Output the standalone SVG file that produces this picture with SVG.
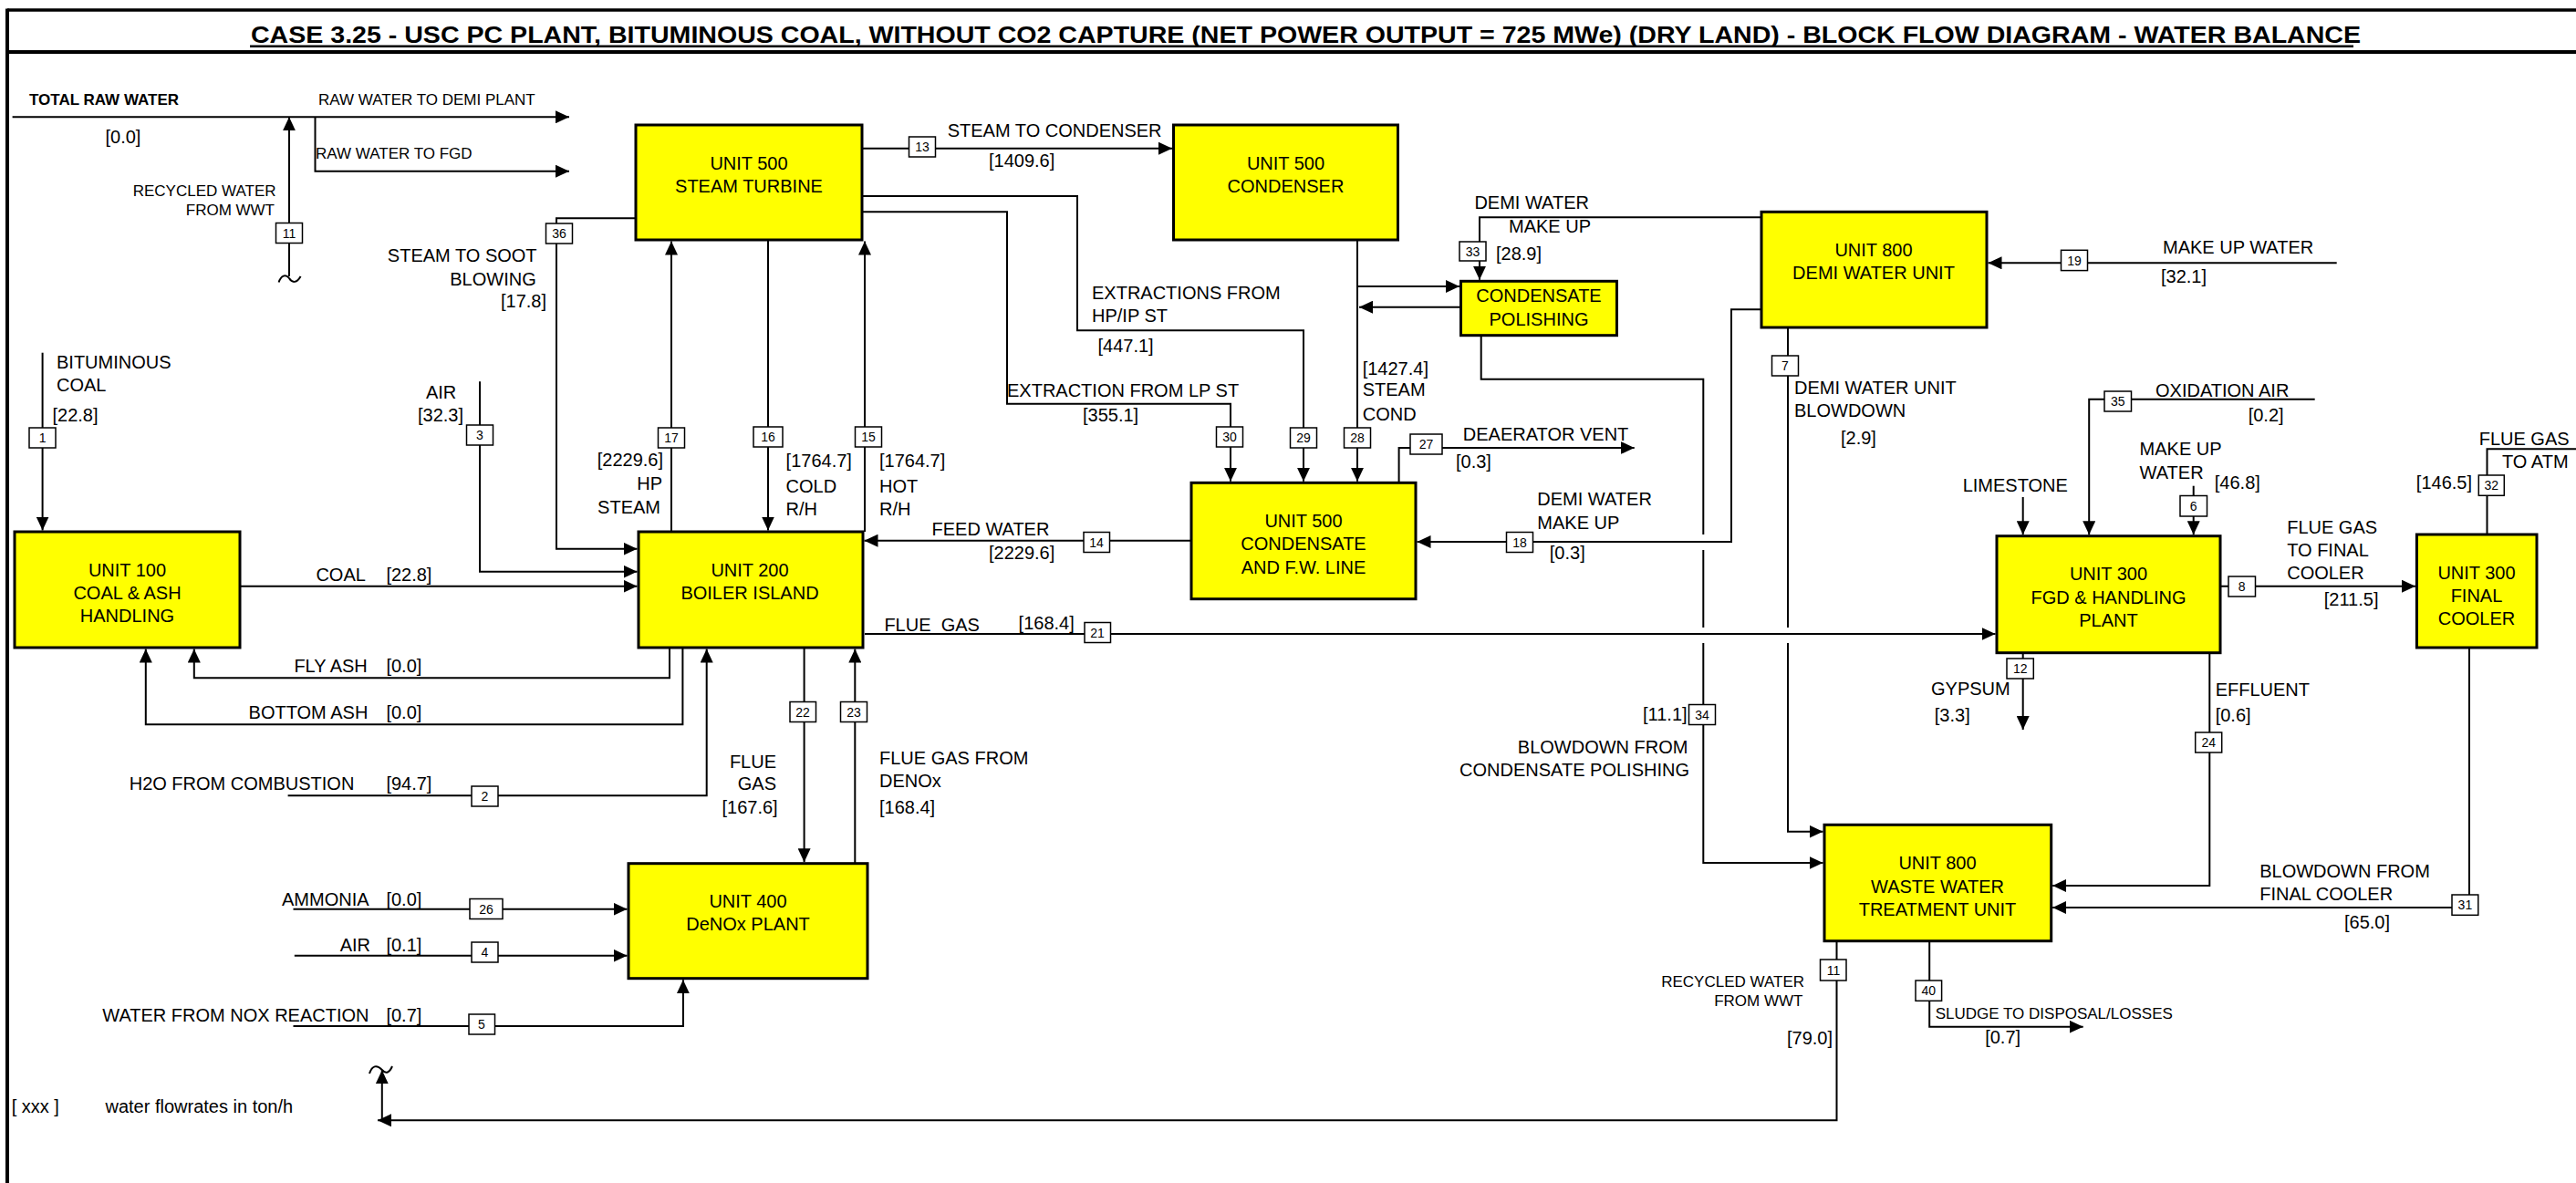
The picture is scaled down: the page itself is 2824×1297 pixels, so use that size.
<svg xmlns="http://www.w3.org/2000/svg" width="2824" height="1297" viewBox="0 0 2824 1297">
<defs>
<marker id="ah" markerWidth="15" markerHeight="14" refX="15" refY="7" orient="auto" markerUnits="userSpaceOnUse"><path d="M0,0 L15,7 L0,14 z" fill="#000"/></marker>
<style>
text{font-family:"Liberation Sans",Arial,sans-serif;fill:#000}
.n{fill:#FFFF00;stroke:#000;stroke-width:3}
.nt{font-size:20px;text-anchor:middle}
.l{font-size:20px}
.s{font-size:17px}
.e{text-anchor:end}
.c{fill:none;stroke:#000;stroke-width:2}
.a{marker-end:url(#ah)}
.b{fill:#fff;stroke:#000;stroke-width:1.5}
.bt{font-size:14px;text-anchor:middle}
.frame{stroke:#000;fill:none}
</style>
</defs>
<rect width="2824" height="1297" fill="#fff"/>
<g id="frame">
<line class="frame" x1="8" y1="11" x2="2824" y2="11" stroke-width="3.5"/>
<line class="frame" x1="8" y1="9.5" x2="8" y2="1297" stroke-width="4"/>
<line class="frame" x1="8" y1="57" x2="2824" y2="57" stroke-width="4"/>
<text x="275" y="46.7" font-size="25" font-weight="bold" textLength="2313" lengthAdjust="spacingAndGlyphs">CASE 3.25 - USC PC PLANT, BITUMINOUS COAL, WITHOUT CO2 CAPTURE (NET POWER OUTPUT = 725 MWe) (DRY LAND) - BLOCK FLOW DIAGRAM - WATER BALANCE</text>
<line class="frame" x1="274" y1="50.8" x2="2580" y2="50.8" stroke-width="2.5"/>
</g>
<g id="u100"><rect class="n" x="16" y="583" width="247" height="127"/><text class="nt" x="139.5" y="631.7">UNIT 100</text><text class="nt" x="139.5" y="657">COAL &amp; ASH</text><text class="nt" x="139.5" y="682">HANDLING</text></g>
<g id="u500st"><rect class="n" x="697" y="137" width="248" height="126"/><text class="nt" x="821" y="185.7">UNIT 500</text><text class="nt" x="821" y="210.7">STEAM TURBINE</text></g>
<g id="u500cond"><rect class="n" x="1286.5" y="137" width="246" height="126"/><text class="nt" x="1409.5" y="185.7">UNIT 500</text><text class="nt" x="1409.5" y="210.7">CONDENSER</text></g>
<g id="polishing"><rect class="n" x="1601.5" y="308.3" width="171" height="59.4"/><text class="nt" x="1687" y="331">CONDENSATE</text><text class="nt" x="1687" y="356.7">POLISHING</text></g>
<g id="u800demi"><rect class="n" x="1931" y="232.3" width="247" height="126.7"/><text class="nt" x="2054" y="281">UNIT 800</text><text class="nt" x="2054" y="306">DEMI WATER UNIT</text></g>
<g id="u200"><rect class="n" x="700" y="583" width="246" height="127"/><text class="nt" x="822" y="631.7">UNIT 200</text><text class="nt" x="822" y="656.7">BOILER ISLAND</text></g>
<g id="u500cfw"><rect class="n" x="1306" y="529.3" width="246" height="127.4"/><text class="nt" x="1429" y="577.7">UNIT 500</text><text class="nt" x="1429" y="603.3">CONDENSATE</text><text class="nt" x="1429" y="629">AND F.W. LINE</text></g>
<g id="u300fgd"><rect class="n" x="2189" y="587.7" width="245" height="128"/><text class="nt" x="2311.5" y="635.7">UNIT 300</text><text class="nt" x="2311.5" y="661.7">FGD &amp; HANDLING</text><text class="nt" x="2311.5" y="686.7">PLANT</text></g>
<g id="u300fc"><rect class="n" x="2649.4" y="586" width="131.6" height="124"/><text class="nt" x="2715" y="635">UNIT 300</text><text class="nt" x="2715" y="660">FINAL</text><text class="nt" x="2715" y="685">COOLER</text></g>
<g id="u400"><rect class="n" x="689" y="946.7" width="262" height="126"/><text class="nt" x="820" y="995">UNIT 400</text><text class="nt" x="820" y="1020">DeNOx PLANT</text></g>
<g id="u800wwt"><rect class="n" x="2000" y="904.3" width="248.7" height="127.4"/><text class="nt" x="2124" y="953.3">UNIT 800</text><text class="nt" x="2124" y="979">WASTE WATER</text><text class="nt" x="2124" y="1004">TREATMENT UNIT</text></g>
<g id="connectors">
<path class="c a" d="M13.6,128.3 H624"/>
<path class="c a" d="M345.5,128.3 V187.7 H624"/>
<path class="c a" d="M317,303 V128.3"/>
<path class="c" d="M305.6,309.5 C308,302 313,300 317,305 C320,310 325,311 329.6,303"/>
<path class="c a" d="M697,239.3 H610 V601.7 H698.5"/>
<path class="c a" d="M46.6,386.7 V581.5"/>
<path class="c a" d="M526,418.3 V626.7 H698.5"/>
<path class="c a" d="M263,642.7 H698.5"/>
<path class="c a" d="M734,711 V743.3 H212.8 V711.5"/>
<path class="c a" d="M748.4,711 V794.3 H159.8 V711.5"/>
<path class="c a" d="M315.6,872.3 H774.7 V711.5"/>
<path class="c a" d="M736,583 V264.5"/>
<path class="c a" d="M842,263 V581.5"/>
<path class="c a" d="M948,583 V264.5"/>
<path class="c a" d="M946,162.7 H1285"/>
<path class="c a" d="M946,215 H1181 V362.3 H1429 V527.8"/>
<path class="c a" d="M946,232.3 H1104 V442.7 H1349 V527.8"/>
<path class="c a" d="M1488,263 V527.8"/>
<path class="c a" d="M1488,314 H1600"/>
<path class="c a" d="M1601,336.7 H1490"/>
<path class="c a" d="M1931,238.3 H1622 V306.8"/>
<path class="c a" d="M1623.7,367.7 V415.7 H1867.3 V586 M1867.3,603 V688 M1867.3,705 V946 H1998.5"/>
<path class="c a" d="M1960,359 V688 M1960,705 V911.7 H1998.5"/>
<path class="c a" d="M1931,339.3 H1898 V594 H1553.5"/>
<path class="c a" d="M1533.6,529 V491 H1791.7"/>
<path class="c a" d="M1306,592.7 H947.5"/>
<path class="c a" d="M948,695 H2187.5"/>
<path class="c a" d="M881.6,710 V945.2"/>
<path class="c a" d="M937.3,947 V711.5"/>
<path class="c a" d="M321.5,996.7 H687.5"/>
<path class="c a" d="M322.8,1047.7 H687.5"/>
<path class="c a" d="M321.5,1125 H748.9 V1074.2"/>
<path class="c a" d="M2013.5,1031.7 V1228.3 H414"/>
<path class="c a" d="M418.8,1228.3 V1173.3"/>
<path class="c" d="M405,1177 C408,1168 413,1167 418.8,1173 C423,1178 427,1176 430,1169"/>
<path class="c a" d="M2561.7,288.3 H2179.5"/>
<path class="c a" d="M2537.7,437.7 H2290.2 V586.2"/>
<path class="c a" d="M2217.7,545 V586.2"/>
<path class="c a" d="M2404.7,532.7 V586.2"/>
<path class="c a" d="M2434,642.7 H2647.9"/>
<path class="c a" d="M2217.7,715.7 V800"/>
<path class="c a" d="M2422.3,715.7 V971 H2250.2"/>
<path class="c" d="M2726.5,586 V492.3 H2824"/>
<path class="c a" d="M2707,710 V995 H2250.2"/>
<path class="c a" d="M2115.2,1031.7 V1125.7 H2283.7"/>
</g>
<g id="streams">
<rect class="b" x="302.5" y="244.5" width="29" height="22"/><text class="bt" x="317" y="260.5">11</text>
<rect class="b" x="598.5" y="245" width="29" height="22"/><text class="bt" x="613" y="261">36</text>
<rect class="b" x="32" y="469" width="29" height="22"/><text class="bt" x="46.6" y="485">1</text>
<rect class="b" x="511.5" y="466" width="29" height="22"/><text class="bt" x="526" y="482">3</text>
<rect class="b" x="721.5" y="469" width="29" height="22"/><text class="bt" x="736" y="485">17</text>
<rect class="b" x="826" y="468" width="32" height="22"/><text class="bt" x="842" y="484">16</text>
<rect class="b" x="937.5" y="468" width="29" height="22"/><text class="bt" x="952" y="484">15</text>
<rect class="b" x="996.5" y="150" width="29" height="22"/><text class="bt" x="1011" y="166">13</text>
<rect class="b" x="1333.5" y="468" width="29" height="22"/><text class="bt" x="1348" y="484">30</text>
<rect class="b" x="1414.5" y="469" width="29" height="22"/><text class="bt" x="1429" y="485">29</text>
<rect class="b" x="1473.5" y="469" width="29" height="22"/><text class="bt" x="1488" y="485">28</text>
<rect class="b" x="1546" y="476" width="35" height="22"/><text class="bt" x="1563.5" y="492">27</text>
<rect class="b" x="1600" y="265" width="29" height="21"/><text class="bt" x="1614.5" y="280.5">33</text>
<rect class="b" x="1851.5" y="772.5" width="29" height="22"/><text class="bt" x="1866" y="788.5">34</text>
<rect class="b" x="1942.5" y="390" width="29" height="22"/><text class="bt" x="1957" y="406">7</text>
<rect class="b" x="1651.5" y="583.5" width="29" height="22"/><text class="bt" x="1666" y="599.5">18</text>
<rect class="b" x="1188" y="583.5" width="28.5" height="22"/><text class="bt" x="1202" y="599.5">14</text>
<rect class="b" x="1189" y="682.5" width="28.5" height="22"/><text class="bt" x="1203" y="698.5">21</text>
<rect class="b" x="866" y="769.5" width="28.5" height="22"/><text class="bt" x="880" y="785.5">22</text>
<rect class="b" x="921.5" y="769.5" width="29" height="22"/><text class="bt" x="936" y="785.5">23</text>
<rect class="b" x="517" y="862" width="29" height="22"/><text class="bt" x="531.5" y="878">2</text>
<rect class="b" x="515" y="985.5" width="36" height="22"/><text class="bt" x="533" y="1001.5">26</text>
<rect class="b" x="517" y="1033" width="29" height="22"/><text class="bt" x="531.5" y="1049">4</text>
<rect class="b" x="514" y="1112" width="28.5" height="22"/><text class="bt" x="528" y="1128">5</text>
<rect class="b" x="1995.5" y="1052" width="28.5" height="23"/><text class="bt" x="2010" y="1068.5">11</text>
<rect class="b" x="2259.5" y="274.3" width="29" height="22.3"/><text class="bt" x="2274" y="290.5">19</text>
<rect class="b" x="2307" y="429" width="29.5" height="22"/><text class="bt" x="2321.7" y="445">35</text>
<rect class="b" x="2390" y="543.5" width="29.5" height="22.5"/><text class="bt" x="2404.7" y="559.7">6</text>
<rect class="b" x="2443" y="632" width="29.5" height="22"/><text class="bt" x="2457.7" y="648">8</text>
<rect class="b" x="2200" y="722" width="29.3" height="22"/><text class="bt" x="2214.7" y="738">12</text>
<rect class="b" x="2406.7" y="803" width="29" height="22"/><text class="bt" x="2421.2" y="819">24</text>
<rect class="b" x="2717.3" y="521" width="28" height="22.3"/><text class="bt" x="2731.3" y="537.2">32</text>
<rect class="b" x="2688" y="981" width="28.8" height="22.3"/><text class="bt" x="2702.4" y="997.2">31</text>
<rect class="b" x="2100" y="1075" width="28.6" height="22.3"/><text class="bt" x="2114.3" y="1091.2">40</text>
</g>
<g id="labels">
<text class="s" x="32" y="115" font-weight="bold">TOTAL RAW WATER</text>
<text class="l" x="115.5" y="156.7">[0.0]</text>
<text class="s" x="349" y="115">RAW WATER TO DEMI PLANT</text>
<text class="s" x="346" y="174">RAW WATER TO FGD</text>
<text class="s e" x="302.5" y="215">RECYCLED WATER</text>
<text class="s e" x="301" y="236">FROM WWT</text>
<text class="l e" x="588.6" y="287.3">STEAM TO SOOT</text>
<text class="l e" x="587.7" y="312.7">BLOWING</text>
<text class="l e" x="599" y="336.7">[17.8]</text>
<text class="l" x="62" y="404">BITUMINOUS</text>
<text class="l" x="62" y="429">COAL</text>
<text class="l" x="57.5" y="461.7">[22.8]</text>
<text class="l e" x="500.3" y="436.7">AIR</text>
<text class="l" x="458" y="461.7">[32.3]</text>
<text class="l e" x="727" y="511">[2229.6]</text>
<text class="l e" x="726" y="536.7">HP</text>
<text class="l e" x="724" y="562.7">STEAM</text>
<text class="l" x="861.6" y="511.7">[1764.7]</text>
<text class="l" x="861.6" y="540">COLD</text>
<text class="l" x="861.6" y="565">R/H</text>
<text class="l" x="964" y="511.7">[1764.7]</text>
<text class="l" x="964" y="540">HOT</text>
<text class="l" x="964" y="565">R/H</text>
<text class="l" x="346.4" y="636.7">COAL</text>
<text class="l" x="423.4" y="636.7">[22.8]</text>
<text class="l" x="322.4" y="737.3">FLY ASH</text>
<text class="l" x="423.4" y="737.3">[0.0]</text>
<text class="l" x="272.6" y="787.7">BOTTOM ASH</text>
<text class="l" x="423.4" y="787.7">[0.0]</text>
<text class="l" x="141.7" y="866">H2O FROM COMBUSTION</text>
<text class="l" x="423.4" y="866">[94.7]</text>
<text class="l e" x="851" y="841.7">FLUE</text>
<text class="l e" x="851" y="866">GAS</text>
<text class="l" x="791.5" y="891.7">[167.6]</text>
<text class="l" x="964" y="838.3">FLUE GAS FROM</text>
<text class="l" x="964" y="863.3">DENOx</text>
<text class="l" x="964" y="891.7">[168.4]</text>
<text class="l" x="309" y="993.3">AMMONIA</text>
<text class="l" x="423.4" y="993.3">[0.0]</text>
<text class="l e" x="406" y="1043.3">AIR</text>
<text class="l" x="423.4" y="1043.3">[0.1]</text>
<text class="l" x="112.3" y="1120">WATER FROM NOX REACTION</text>
<text class="l" x="423.4" y="1120">[0.7]</text>
<text class="l" x="12.7" y="1220">[ xxx ]</text>
<text class="l" x="115.5" y="1220">water flowrates in ton/h</text>
<text class="l" x="1038.7" y="150">STEAM TO CONDENSER</text>
<text class="l" x="1084" y="183.3">[1409.6]</text>
<text class="l" x="1197" y="328.3">EXTRACTIONS FROM</text>
<text class="l" x="1197" y="353.3">HP/IP ST</text>
<text class="l" x="1203.5" y="385.7">[447.1]</text>
<text class="l" x="1104" y="435">EXTRACTION FROM LP ST</text>
<text class="l" x="1187" y="461.7">[355.1]</text>
<text class="l" x="1493.7" y="410.7">[1427.4]</text>
<text class="l" x="1493.7" y="434">STEAM</text>
<text class="l" x="1493.7" y="460.7">COND</text>
<text class="l" x="1021.5" y="586.7">FEED WATER</text>
<text class="l" x="1084" y="612.7">[2229.6]</text>
<text class="l" x="969.4" y="691.7" xml:space="preserve" style="white-space:pre">FLUE  GAS</text>
<text class="l" x="1116.6" y="690">[168.4]</text>
<text class="l" x="1603.8" y="482.7">DEAERATOR VENT</text>
<text class="l" x="1596" y="513.3">[0.3]</text>
<text class="l" x="1685.3" y="554">DEMI WATER</text>
<text class="l" x="1685.3" y="580">MAKE UP</text>
<text class="l" x="1698.8" y="613.3">[0.3]</text>
<text class="l" x="1616.4" y="229.3">DEMI WATER</text>
<text class="l e" x="1744" y="255">MAKE UP</text>
<text class="l" x="1640" y="285">[28.9]</text>
<text class="l" x="1967" y="431.7">DEMI WATER UNIT</text>
<text class="l" x="1967" y="456.7">BLOWDOWN</text>
<text class="l" x="2018" y="486.7">[2.9]</text>
<text class="l e" x="1849.6" y="790">[11.1]</text>
<text class="l e" x="1850.5" y="825.7">BLOWDOWN FROM</text>
<text class="l e" x="1852" y="850.7">CONDENSATE POLISHING</text>
<text class="l" x="2371" y="278.3">MAKE UP WATER</text>
<text class="l" x="2369" y="310">[32.1]</text>
<text class="l" x="2363" y="435">OXIDATION AIR</text>
<text class="l" x="2464.7" y="461.7">[0.2]</text>
<text class="l" x="2151.7" y="539.3">LIMESTONE</text>
<text class="l" x="2345.6" y="499.3">MAKE UP</text>
<text class="l" x="2345.6" y="525">WATER</text>
<text class="l" x="2427.8" y="536">[46.8]</text>
<text class="l" x="2507.2" y="585">FLUE GAS</text>
<text class="l" x="2507.2" y="610">TO FINAL</text>
<text class="l" x="2507.2" y="635">COOLER</text>
<text class="l" x="2547.8" y="664.3">[211.5]</text>
<text class="l" x="2717.7" y="487.7">FLUE GAS</text>
<text class="l e" x="2815.6" y="512.7">TO ATM</text>
<text class="l e" x="2710" y="536">[146.5]</text>
<text class="l" x="2117" y="761.7">GYPSUM</text>
<text class="l" x="2120.8" y="791">[3.3]</text>
<text class="l" x="2428.7" y="762.7">EFFLUENT</text>
<text class="l" x="2428.7" y="791">[0.6]</text>
<text class="l" x="2477.2" y="961.7">BLOWDOWN FROM</text>
<text class="l" x="2477.2" y="987.3">FINAL COOLER</text>
<text class="l" x="2570" y="1018.3">[65.0]</text>
<text class="s e" x="1978" y="1081.7">RECYCLED WATER</text>
<text class="s e" x="1976.4" y="1103.3">FROM WWT</text>
<text class="l e" x="2009" y="1145">[79.0]</text>
<text class="s" x="2121.7" y="1116.7">SLUDGE TO DISPOSAL/LOSSES</text>
<text class="l" x="2176.2" y="1144">[0.7]</text>
</g>
</svg>
